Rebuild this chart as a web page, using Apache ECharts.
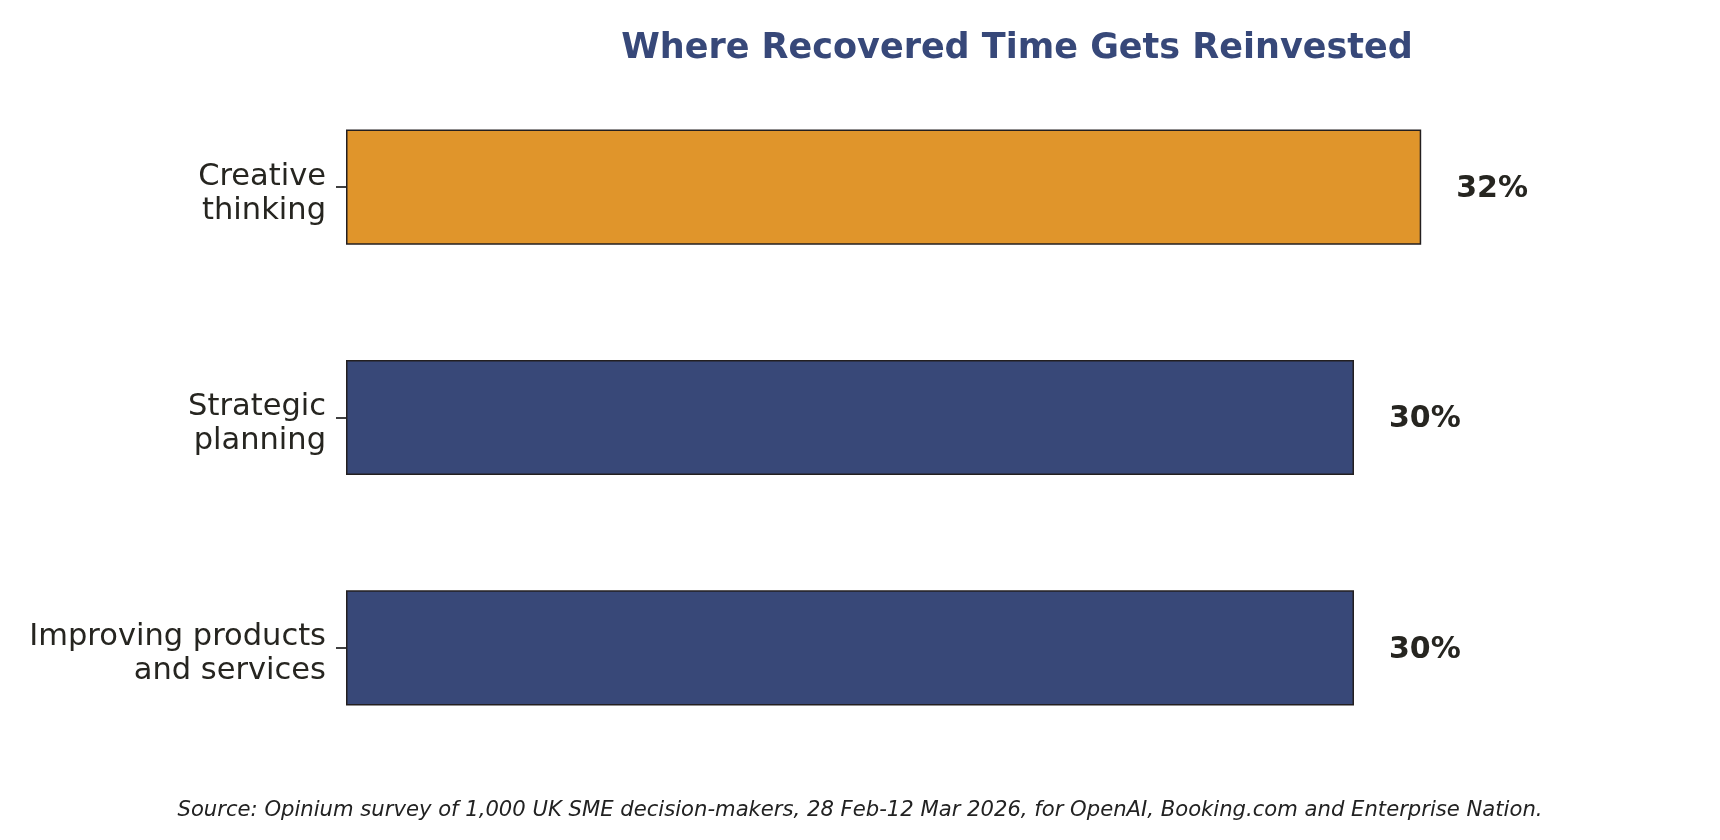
<!DOCTYPE html>
<html>
<head>
<meta charset="utf-8">
<script src="https://cdn.jsdelivr.net/npm/echarts@6/dist/echarts.min.js"></script>
<style>
  html, body { margin: 0; padding: 0; background: #fff; }
  #chart { width: 1720px; height: 840px; }
</style>
</head>
<body>
<div id="chart"></div>
<script>
var categories = ['Creative\nthinking', 'Strategic\nplanning', 'Improving products\nand services'];
var shares = [32, 30, 30];
var barColors = ['#E0952B', '#384878', '#384878'];

var chartTitle = 'Where Recovered Time Gets Reinvested';
var sourceNote = 'Source: Opinium survey of 1,000 UK SME decision-makers, 28 Feb-12 Mar 2026, for OpenAI, Booking.com and Enterprise Nation.';

var font = 'DejaVu Sans';
var ink = '#262520';

var myChart = echarts.init(document.getElementById('chart'));

var barData = shares.map(function(v, i) {
	return { value: v, itemStyle: { color: barColors[i] } };
});

// small blank line on top nudges the two-line labels down, like matplotlib
function catLabel(value) {
	return '{s| }\n' + value.split('\n').map(function(l) {
		return '{t|' + l + '}';
	}).join('\n');
}

var option = {
	backgroundColor: '#ffffff',
	animation: false,
	title: {
		text: chartTitle,
		left: 1012,
		textAlign: 'center',
		top: 26,
		textStyle: { fontFamily: font, fontSize: 35, fontWeight: 'bold', color: '#374879' }
	},
	grid: { left: 346, right: 30, top: 72, bottom: 77, containLabel: false },
	xAxis: {
		type: 'value',
		min: 0,
		max: 40,
		show: false
	},
	yAxis: {
		type: 'category',
		data: categories,
		inverse: true,
		axisLine: { show: false },
		axisTick: { show: true, alignWithLabel: true, length: 10, lineStyle: { color: '#000', width: 1.5 } },
		axisLabel: {
			margin: 20,
			formatter: catLabel,
			fontFamily: font,
			fontSize: 30.5,
			color: ink,
			align: 'right',
			rich: {
				s: { fontSize: 8, lineHeight: 13 },
				t: { fontFamily: font, fontSize: 30.5, lineHeight: 34, color: ink, align: 'right' }
			}
		},
		splitLine: { show: false }
	},
	series: [{
		type: 'bar',
		data: barData,
		barWidth: '50%',
		itemStyle: { borderColor: '#231f20', borderWidth: 1.5 },
		label: {
			show: true,
			position: 'right',
			distance: 35,
			offset: [0, 2],
			formatter: '{c}%',
			fontFamily: font,
			fontSize: 30,
			fontWeight: 'bold',
			color: ink
		}
	}],
	graphic: [{
		type: 'text',
		left: 'center',
		top: 800,
		style: {
			text: sourceNote,
			font: 'italic 21.15px "DejaVu Sans"',
			fill: '#222222'
		}
	}]
};

myChart.setOption(option);
</script>
</body>
</html>
